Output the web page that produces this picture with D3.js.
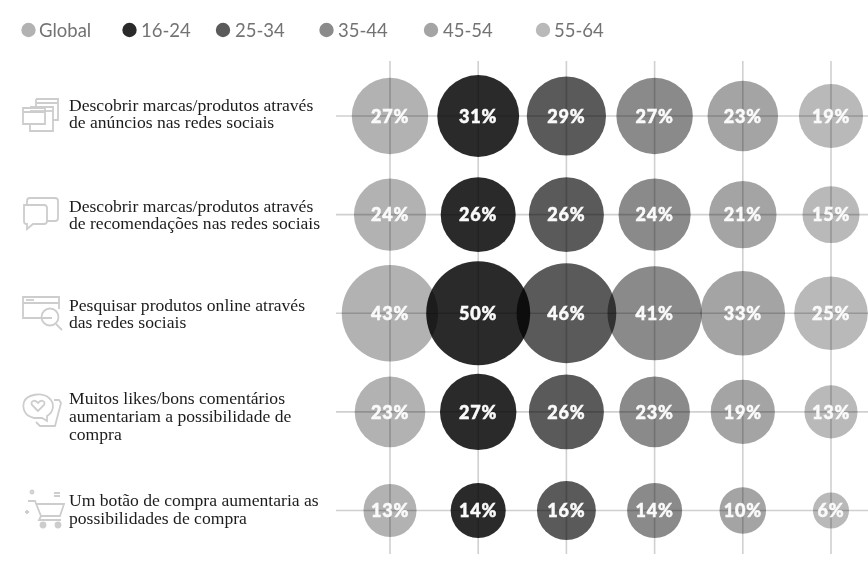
<!DOCTYPE html>
<html><head><meta charset="utf-8">
<script src="https://cdnjs.cloudflare.com/ajax/libs/d3/7.8.5/d3.min.js"></script>
<style>html,body{margin:0;padding:0;background:#fff;overflow:hidden}svg{display:block}</style>
</head><body><div id="chart"></div>
<script>
const series = ["Global","16-24","25-34","35-44","45-54","55-64"];
const seriesColors = ["#b2b2b2","#2c2c2c","#5a5a5a","#8a8a8a","#a4a4a4","#b9b9b9"];
const legendSwatchX = [28.5,129.5,223,326.5,431,543];
const legendTextX = [39,141,235,338,443,554];
const categories = [
  ["Descobrir marcas/produtos através","de anúncios nas redes sociais"],
  ["Descobrir marcas/produtos através","de recomendações nas redes sociais"],
  ["Pesquisar produtos online através","das redes sociais"],
  ["Muitos likes/bons comentários","aumentariam a possibilidade de","compra"],
  ["Um botão de compra aumentaria as","possibilidades de compra"]
];
const globalValues = [27,24,43,23,13];
const age1624 = [31,26,50,27,14];
const age2534 = [29,26,46,26,16];
const age3544 = [27,24,41,23,14];
const age4554 = [23,21,33,19,10];
const age5564 = [19,15,25,13,6];
const allValues = [globalValues,age1624,age2534,age3544,age4554,age5564];

const W=868,H=567;
const svg=d3.select("#chart").append("svg").attr("width",W).attr("height",H);
const defs=svg.append("defs");
defs.append("filter").attr("id","soft").attr("x","-5%").attr("y","-5%").attr("width","110%").attr("height","110%")
  .append("feGaussianBlur").attr("stdDeviation",0.6);
const root=svg.append("g").attr("filter","url(#soft)").style("isolation","isolate");

const x=d3.scalePoint().domain(series).range([390,831]);
const y=d3.scalePoint().domain(d3.range(categories.length)).range([116,510.5]);
const r=d3.scaleSqrt().domain([0,50]).range([0,52]);

// grid
root.selectAll("line.v").data(series).join("line").attr("class","v")
  .attr("x1",d=>x(d)).attr("x2",d=>x(d)).attr("y1",61).attr("y2",554)
  .attr("stroke","#d0d0d0").attr("stroke-width",1.6);
root.selectAll("line.h").data(categories).join("line").attr("class","h")
  .attr("x1",336).attr("x2",W).attr("y1",(d,i)=>y(i)).attr("y2",(d,i)=>y(i))
  .attr("stroke","#d0d0d0").attr("stroke-width",1.6);

// bubbles
const cells=series.flatMap((s,si)=>allValues[si].map((v,ci)=>({s,si,ci,v})));
root.selectAll("circle.b").data(cells).join("circle").attr("class","b")
  .attr("cx",d=>x(d.s)).attr("cy",d=>y(d.ci)).attr("r",d=>r(d.v))
  .attr("fill",d=>seriesColors[d.si]).style("mix-blend-mode","multiply");
root.selectAll("text.v").data(cells).join("text").attr("class","v")
  .attr("x",d=>x(d.s)).attr("y",d=>y(d.ci)).attr("dy","0.38em").attr("text-anchor","middle")
  .attr("font-family","Lato, 'Open Sans', sans-serif").attr("font-weight",900).attr("font-size",18)
  .attr("letter-spacing",0.8).attr("fill","#fafafa").attr("stroke","#fafafa").attr("stroke-width",0.5)
  .text(d=>d.v+"%");

// legend
const lg=root.append("g");
lg.selectAll("circle").data(series).join("circle")
  .attr("cx",(d,i)=>legendSwatchX[i]).attr("cy",30).attr("r",7.2).attr("fill",(d,i)=>seriesColors[i]);
lg.selectAll("text").data(series).join("text")
  .attr("x",(d,i)=>legendTextX[i]).attr("y",36.5)
  .attr("font-family","Lato, sans-serif").attr("font-size",18.5).attr("fill","#737373")
  .text(d=>d);

// category labels
const lineH=[16.5,16.5,17,18,18.5];
const firstBase=[111,212,311,404,505.5];
const labels=root.selectAll("text.cat").data(categories).join("text").attr("class","cat")
  .attr("font-family","'Liberation Serif', serif").attr("font-size",17.6).attr("fill","#1c1c1c");
labels.each(function(d,i){
  d3.select(this).selectAll("tspan").data(d).join("tspan")
    .attr("x",69).attr("y",(t,j)=>firstBase[i]+j*lineH[i]).text(t=>t);
});

// icons
const ic=root.append("g").attr("fill","none").attr("stroke","#cdcdcd").attr("stroke-width",1.8);
const icon=(tx,ty)=>ic.append("g").attr("transform",`translate(${tx},${ty})`);
let g=icon(22,98);
["M14,1H36V22H31","M14,1V8M14,5H36","M8,9H31V33H8V26","M8,13H31","M1,10H23V26H1ZM1,14H23"].forEach(p=>g.append("path").attr("d",p));
g=icon(22,196);
["M8,2H33Q36,2 36,5V22Q36,25 33,25H24","M8,2Q5,2 5,5V8","M2,9H22Q25,9 25,12V25Q25,28 22,28H11L5,33V28H4Q2,28 2,25Z"].forEach(p=>g.append("path").attr("d",p));
g=icon(22,296);
["M30,22H1V1H37V13","M1,7H37","M4,4H12"].forEach(p=>g.append("path").attr("d",p));
g.append("circle").attr("cx",28).attr("cy",21).attr("r",8.5);
g.append("path").attr("d","M34,28L40,34");
g=icon(22,392);
["M12,26C3,24 0,17 2,10C5,2 20,0 27,6C33,11 32,20 25,24L25,29L20,26Z","M16,19L10,13C8,9 13,7 16,11C19,7 24,9 22,13Z","M32,8H37L39,11L33,34H18L14,30"].forEach(p=>g.append("path").attr("d",p));
g=icon(22,490);
["M6,11H13L19,26H38L42,14H14","M19,26L17,30H39"].forEach(p=>g.append("path").attr("d",p));
[[21,35],[36,35]].forEach(c=>g.append("circle").attr("cx",c[0]).attr("cy",c[1]).attr("r",2.5).attr("fill","#cdcdcd"));
g.append("circle").attr("cx",10).attr("cy",2).attr("r",1.5);
g.append("path").attr("d","M3,22H7M5,20V24M32,3H38M32,6H38");
</script></body></html>
